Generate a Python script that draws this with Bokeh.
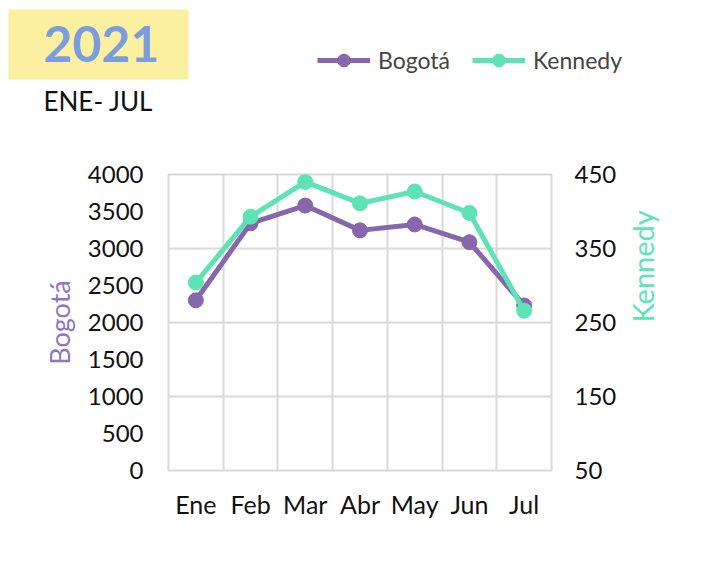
import math
from bokeh.plotting import figure
from bokeh.layouts import column
from bokeh.models import (FactorRange, Range1d, LinearAxis, FixedTicker, Legend,
                          LegendItem, Label, BoxAnnotation)
from bokeh.embed import file_html
from bokeh.resources import INLINE

months = ["Ene", "Feb", "Mar", "Abr", "May", "Jun", "Jul"]
bogota = [2300, 3340, 3580, 3245, 3325, 3085, 2230]
kennedy = [304, 393, 440, 411, 427, 398, 266]
left_ticks = [0, 500, 1000, 1500, 2000, 2500, 3000, 3500, 4000]
right_ticks = [50, 150, 250, 350, 450]
series_names = ["Bogotá", "Kennedy"]

C_BOG = "#8767ac"
C_KEN = "#5ee3b6"
GRID = "#d9d9d9"
FONT = "Lato"
W = 703
HEAD_H = 140

# ---------------- header ----------------
h = figure(width=W, height=HEAD_H, x_range=Range1d(0, 1), y_range=Range1d(0, 1),
           x_axis_location=None, y_axis_location=None,
           output_backend="svg", toolbar_location=None,
           min_border=0, min_border_left=0, min_border_right=0,
           min_border_top=0, min_border_bottom=0)
h.frame_align = False
h.grid.visible = False
h.outline_line_color = None
h.background_fill_color = "white"
h.border_fill_color = "white"

box = BoxAnnotation(left=8, right=188, bottom=HEAD_H - 79, top=HEAD_H - 9,
                    left_units="screen", right_units="screen",
                    bottom_units="screen", top_units="screen",
                    fill_color="#fbf09f", fill_alpha=1, line_color=None)
h.add_layout(box)
h.add_layout(Label(x=43, y=HEAD_H - 43, x_units="screen", y_units="screen", text="2021",
                   text_font=FONT, text_font_size="50px", text_font_style="bold",
                   text_color="#7b9ddf", text_baseline="alphabetic"))
h.add_layout(Label(x=43, y=HEAD_H - 100, x_units="screen", y_units="screen", text="ENE- JUL",
                   text_font=FONT, text_font_size="26px",
                   text_color="#111111", text_baseline="alphabetic"))

# legend proxies: the series drawn in the header's ranges fall outside its view,
# only their styles appear in the legend
idx = list(range(len(months)))
hl1 = h.line(idx, bogota, line_color=C_BOG, line_width=5)
hc1 = h.scatter(idx, bogota, size=15, fill_color=C_BOG, line_color=C_BOG)
hl2 = h.line(idx, kennedy, line_color=C_KEN, line_width=5)
hc2 = h.scatter(idx, kennedy, size=15, fill_color=C_KEN, line_color=C_KEN)
legend = Legend(items=[LegendItem(label=series_names[0], renderers=[hl1, hc1]),
                       LegendItem(label=series_names[1], renderers=[hl2, hc2])],
                orientation="horizontal", location=(317, 64))
legend.border_line_color = None
legend.background_fill_alpha = 0
legend.label_text_font = FONT
legend.label_text_font_size = "23px"
legend.glyph_width = 53
legend.glyph_height = 32
legend.label_standoff = 8
legend.spacing = 22
h.add_layout(legend, "center")

# ---------------- chart ----------------
p = figure(width=W, height=435, x_range=FactorRange(*months),
           y_range=Range1d(0, 4000), output_backend="svg", toolbar_location=None,
           min_border_left=168, min_border_right=152, min_border_top=34,
           min_border_bottom=105)
p.frame_align = False
p.extra_y_ranges = {"k": Range1d(50, 450)}

p.background_fill_color = "white"
p.border_fill_color = "white"
p.outline_line_color = GRID
p.outline_line_width = 2

p.xgrid.ticker = FixedTicker(ticks=list(range(len(months) + 1)))
p.ygrid.ticker = FixedTicker(ticks=[0, 1000, 2000, 3000, 4000])
for g in (p.xgrid, p.ygrid):
    g.grid_line_color = GRID
    g.grid_line_width = 2

ly = p.yaxis[0]
ly.ticker = FixedTicker(ticks=left_ticks)
ly.axis_label = series_names[0]
ly.axis_label_text_color = "#9176bd"
ly.axis_label_text_font = FONT
ly.axis_label_text_font_size = "27px"
ly.axis_label_text_font_style = "normal"
ly.axis_label_standoff = 9

ry = LinearAxis(y_range_name="k", ticker=FixedTicker(ticks=right_ticks),
                axis_label=series_names[1])
ry.axis_label_orientation = math.pi / 2
ry.axis_label_text_color = C_KEN
ry.axis_label_text_font = FONT
ry.axis_label_text_font_size = "29px"
ry.axis_label_text_font_style = "normal"
ry.axis_label_standoff = 23
p.add_layout(ry, "right")

for ax in (p.xaxis[0], ly, ry):
    ax.axis_line_color = None
    ax.major_tick_line_color = None
    ax.minor_tick_line_color = None
    ax.major_tick_out = 0
    ax.major_tick_in = 0
    ax.major_label_text_font = FONT
    ax.major_label_text_font_size = "24px"
    ax.major_label_text_color = "#111111"
p.xaxis[0].major_label_text_font_size = "25px"
ly.major_label_standoff = 25
ry.major_label_standoff = 23
p.xaxis[0].major_label_standoff = 18

p.line(months, bogota, line_color=C_BOG, line_width=5)
p.scatter(months, bogota, size=15, fill_color=C_BOG, line_color=C_BOG)
p.line(months, kennedy, line_color=C_KEN, line_width=5, y_range_name="k")
p.scatter(months, kennedy, size=15, fill_color=C_KEN, line_color=C_KEN, y_range_name="k")

layout = column(h, p, spacing=0)
open("out.html", "w").write(file_html(layout, INLINE))
